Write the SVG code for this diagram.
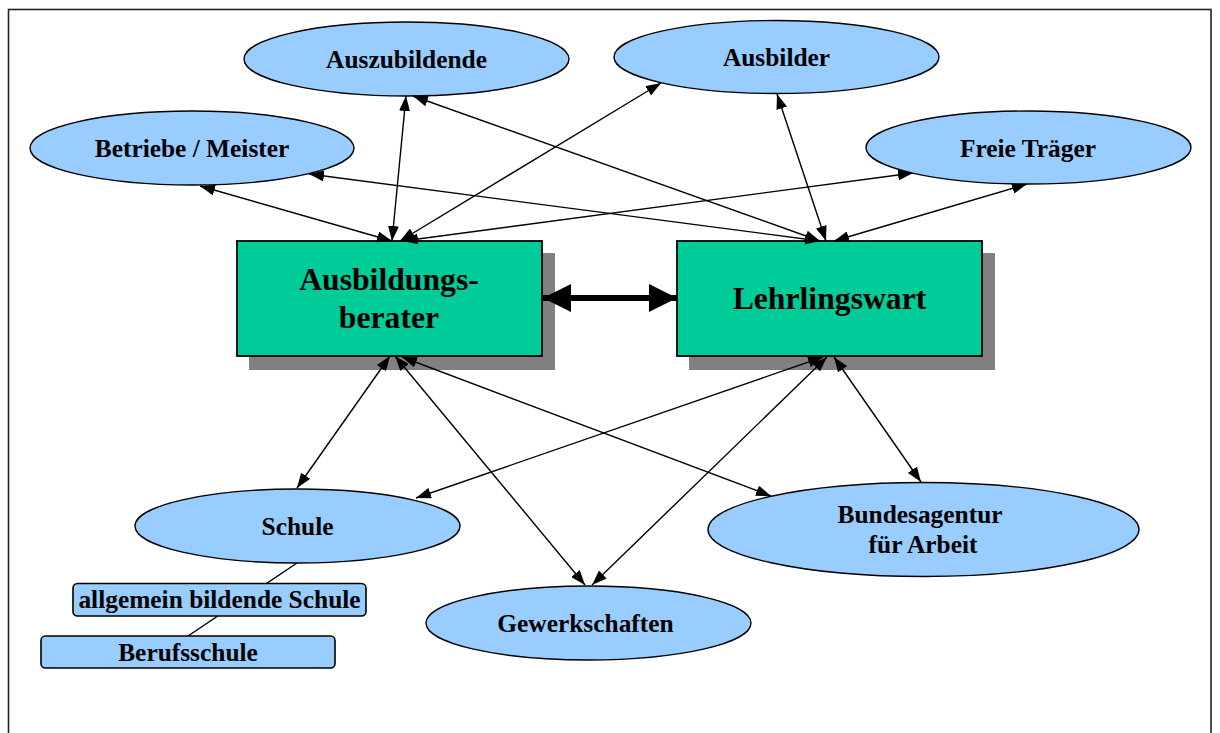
<svg xmlns="http://www.w3.org/2000/svg" width="1220" height="733" viewBox="0 0 1220 733">
<style>
.frame{fill:#fff;stroke:#222;stroke-width:1.6}
.ell{fill:#99CCFF;stroke:#000;stroke-width:1.4}
.sub{fill:#99CCFF;stroke:#000;stroke-width:1.6}
.box{fill:#00CC99;stroke:#000;stroke-width:1.8}
.shadow{fill:#808080}
.lbl{font-family:"Liberation Serif","Times New Roman",serif;font-weight:bold;font-size:25.4px;fill:#000;text-anchor:middle}
.big{font-size:31.7px}
.con{stroke:#000;stroke-width:1.4;fill:none;marker-start:url(#ah);marker-end:url(#ah)}
.thick{stroke:#000;stroke-width:6;fill:none;marker-start:url(#bh);marker-end:url(#bh)}
.plain{stroke:#000;stroke-width:1.4;fill:none}
</style>
<defs>
<marker id="ah" viewBox="0 0 15 11" refX="15" refY="5.5" markerWidth="15" markerHeight="11" markerUnits="userSpaceOnUse" orient="auto-start-reverse"><path d="M0,0 L15,5.5 L0,11 z" fill="#000"/></marker>
<marker id="bh" viewBox="0 0 28 28" refX="28" refY="14" markerWidth="28" markerHeight="28" markerUnits="userSpaceOnUse" orient="auto-start-reverse"><path d="M0,0 L28,14 L0,28 z" fill="#000"/></marker>
</defs>
<rect class="frame" x="8.5" y="9.5" width="1202.5" height="740"/>

<g id="schule-links">
<line class="plain" x1="297" y1="563" x2="188" y2="636"/>
</g>

<g id="ausbildungsberater">
<rect class="shadow" x="249" y="253" width="306" height="117"/>
<rect class="box" x="237" y="241" width="305" height="115"/>
<text class="lbl big" x="389" y="290">Ausbildungs-</text>
<text class="lbl big" x="389" y="328">berater</text>
</g>
<g id="lehrlingswart">
<rect class="shadow" x="689" y="253" width="306" height="117"/>
<rect class="box" x="677" y="241" width="305" height="115"/>
<text class="lbl big" x="829.5" y="309">Lehrlingswart</text>
</g>

<g id="connectors">
<line class="con" x1="200" y1="186" x2="392" y2="241"/>
<line class="con" x1="406" y1="96" x2="392" y2="241"/>
<line class="con" x1="661" y1="83" x2="400" y2="241"/>
<line class="con" x1="913" y1="173" x2="403" y2="241"/>
<line class="con" x1="309" y1="174" x2="820" y2="241"/>
<line class="con" x1="413" y1="96" x2="820" y2="241"/>
<line class="con" x1="777" y1="94" x2="826" y2="241"/>
<line class="con" x1="1027" y1="184" x2="834" y2="241"/>
<line class="con" x1="390" y1="356" x2="297" y2="488"/>
<line class="con" x1="395" y1="356" x2="585" y2="585"/>
<line class="con" x1="402" y1="357" x2="771" y2="496"/>
<line class="con" x1="823" y1="357" x2="416" y2="498"/>
<line class="con" x1="827" y1="357" x2="592" y2="585"/>
<line class="con" x1="834" y1="357" x2="921" y2="482"/>
<line class="thick" x1="543" y1="298" x2="677" y2="298"/>
</g>

<g id="auszubildende">
<ellipse class="ell" cx="406.5" cy="59" rx="162.5" ry="37"/>
<text class="lbl" x="406.5" y="67.5">Auszubildende</text>
</g>
<g id="ausbilder">
<ellipse class="ell" cx="776.5" cy="57" rx="162.5" ry="36.5"/>
<text class="lbl" x="776.5" y="65.5">Ausbilder</text>
</g>
<g id="betriebe">
<ellipse class="ell" cx="192" cy="148" rx="162" ry="37"/>
<text class="lbl" x="192" y="157">Betriebe / Meister</text>
</g>
<g id="freie-traeger">
<ellipse class="ell" cx="1028.5" cy="147.5" rx="162.5" ry="36.5"/>
<text class="lbl" x="1028" y="156.5">Freie Träger</text>
</g>
<g id="schule">
<ellipse class="ell" cx="297.5" cy="526" rx="162.5" ry="37"/>
<text class="lbl" x="297.5" y="535">Schule</text>
</g>
<g id="gewerkschaften">
<ellipse class="ell" cx="588.5" cy="623" rx="162.5" ry="37"/>
<text class="lbl" x="585.5" y="632">Gewerkschaften</text>
</g>
<g id="bundesagentur">
<ellipse class="ell" cx="923.5" cy="529.5" rx="215.5" ry="47"/>
<text class="lbl" x="920" y="523">Bundesagentur</text>
<text class="lbl" x="923" y="552.5">für Arbeit</text>
</g>
<g id="allgemein">
<rect class="sub" x="73" y="583.5" width="293" height="32.5" rx="4.5"/>
<text class="lbl" x="219.5" y="608">allgemein bildende Schule</text>
</g>
<g id="berufsschule">
<rect class="sub" x="41" y="636" width="294" height="32" rx="4.5"/>
<text class="lbl" x="188" y="660.5">Berufsschule</text>
</g>
</svg>
